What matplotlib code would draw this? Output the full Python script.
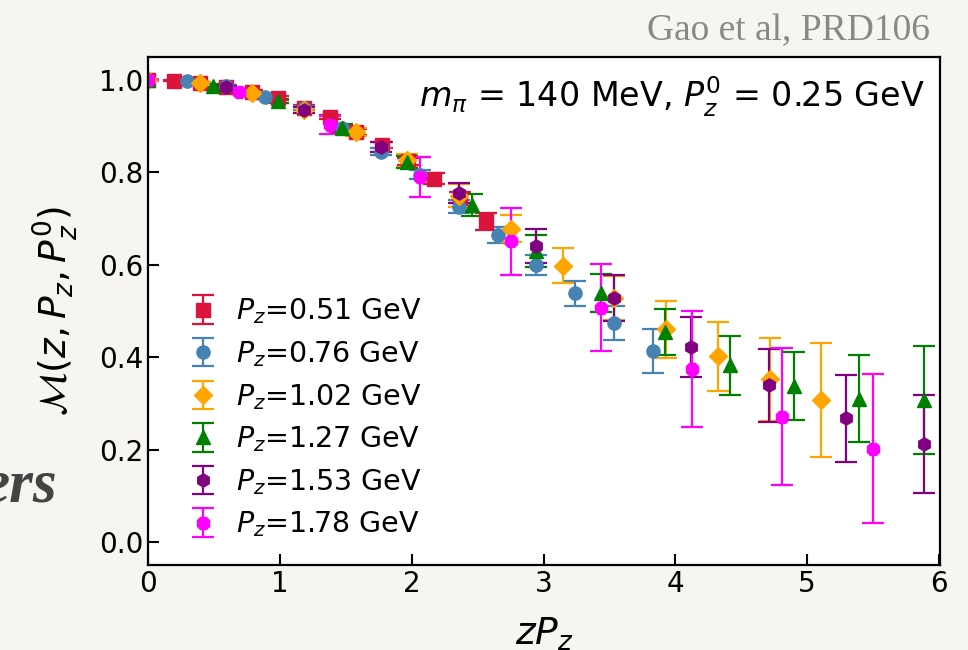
import numpy as np
import matplotlib
matplotlib.use('Agg')
import matplotlib.pyplot as plt

# colours / markers per momentum
bg_color = '#f7f5ef'
colors = ['crimson', 'steelblue', 'orange', 'green', 'purple', 'magenta']
markers = ['s', 'o', 'D', '^', 'h', '8']
labels = ['$P_z$=0.51 GeV', '$P_z$=0.76 GeV', '$P_z$=1.02 GeV',
          '$P_z$=1.27 GeV', '$P_z$=1.53 GeV', '$P_z$=1.78 GeV']

# data (zPz, M, error)
red_x = [0, 0.197, 0.394, 0.591, 0.788, 0.985, 1.182, 1.379, 1.576, 1.773, 1.970, 2.167, 2.364, 2.561]
red_y = [1.0, 0.999, 0.993, 0.986, 0.975, 0.961, 0.940, 0.920, 0.888, 0.860, 0.824, 0.786, 0.745, 0.694]
red_err = [0, 0.001, 0.002, 0.003, 0.003, 0.004, 0.005, 0.005, 0.006, 0.007, 0.008, 0.012, 0.012, 0.019]

blue_x = [0, 0.295, 0.589, 0.884, 1.178, 1.473, 1.767, 2.062, 2.356, 2.651, 2.945, 3.240, 3.534, 3.829]
blue_y = [1.0, 0.998, 0.987, 0.963, 0.940, 0.897, 0.845, 0.795, 0.726, 0.665, 0.600, 0.538, 0.474, 0.413]
blue_err = [0, 0.001, 0.002, 0.003, 0.004, 0.005, 0.007, 0.010, 0.014, 0.017, 0.021, 0.028, 0.037, 0.047]

orange_x = [0, 0.393, 0.786, 1.179, 1.572, 1.965, 2.358, 2.751, 3.144, 3.537, 3.930, 4.323, 4.716, 5.109]
orange_y = [1.0, 0.993, 0.971, 0.935, 0.888, 0.826, 0.750, 0.678, 0.598, 0.528, 0.460, 0.402, 0.352, 0.307]
orange_err = [0, 0.002, 0.004, 0.006, 0.009, 0.014, 0.025, 0.029, 0.038, 0.048, 0.061, 0.075, 0.090, 0.124]

green_x = [0, 0.491, 0.981, 1.472, 1.962, 2.453, 2.943, 3.434, 3.924, 4.415, 4.905, 5.396, 5.886]
green_y = [1.0, 0.988, 0.955, 0.896, 0.823, 0.730, 0.630, 0.539, 0.454, 0.382, 0.338, 0.310, 0.307]
green_err = [0, 0.003, 0.005, 0.008, 0.013, 0.024, 0.035, 0.041, 0.050, 0.064, 0.073, 0.094, 0.117]

purple_x = [0, 0.589, 1.177, 1.766, 2.354, 2.943, 3.532, 4.120, 4.709, 5.297, 5.886]
purple_y = [1.0, 0.984, 0.935, 0.855, 0.755, 0.640, 0.528, 0.422, 0.339, 0.268, 0.212]
purple_err = [0, 0.003, 0.006, 0.010, 0.022, 0.037, 0.050, 0.064, 0.079, 0.094, 0.107]

magenta_x = [0, 0.688, 1.375, 2.063, 2.750, 3.438, 4.125, 4.813, 5.500]
magenta_y = [1.0, 0.975, 0.903, 0.790, 0.651, 0.507, 0.374, 0.271, 0.202]
magenta_err = [0, 0.004, 0.019, 0.043, 0.072, 0.094, 0.125, 0.148, 0.162]

all_x = [red_x, blue_x, orange_x, green_x, purple_x, magenta_x]
all_y = [red_y, blue_y, orange_y, green_y, purple_y, magenta_y]
all_err = [red_err, blue_err, orange_err, green_err, purple_err, magenta_err]


fig = plt.figure(figsize=(9.68, 6.5), dpi=100, facecolor=bg_color)
ax = fig.add_axes([0.1534, 0.1308, 0.8177, 0.7815])
ax.set_facecolor('white')

for x, y, e, c, m, lab in zip(all_x, all_y, all_err, colors, markers, labels):
    ax.errorbar(x, y, yerr=e, fmt=m, color=c, ms=9.5, capsize=8,
                elinewidth=1.6, capthick=1.6, label=lab)

ax.set_xlim(0, 6.01)
ax.set_ylim(-0.05, 1.05)
ax.set_xticks(np.arange(0, 7, 1))
ax.set_yticks(np.arange(0, 1.01, 0.2))
ax.tick_params(direction='in', length=8, width=1.5, labelsize=20)
for s in ax.spines.values():
    s.set_linewidth(1.6)

ax.set_xlabel('$zP_z$', fontsize=27, labelpad=13)
ax.set_ylabel(r'$\mathcal{M}(z, P_z, P_z^0)$', fontsize=27, labelpad=14)

ax.text(0.981, 0.921, r'$m_\pi$ = 140 MeV, $P_z^0$ = 0.25 GeV', transform=ax.transAxes,
        ha='right', va='center', fontsize=24)

ax.legend(loc='lower left', bbox_to_anchor=(0.015, 0.0), frameon=False, fontsize=20.5,
          handletextpad=0.55, labelspacing=0.45, handlelength=1.2)

# slide decorations
fig.text(0.961, 0.952, 'Gao et al, PRD106', ha='right', va='center', fontsize=27,
         family='Liberation Serif', color='#888888')
fig.text(0.059, 0.228, 'ers', ha='right', va='baseline', fontsize=44,
         family='Liberation Serif', weight='bold', style='italic', color='#444444')

plt.savefig('out.png', dpi=100, facecolor=bg_color)
